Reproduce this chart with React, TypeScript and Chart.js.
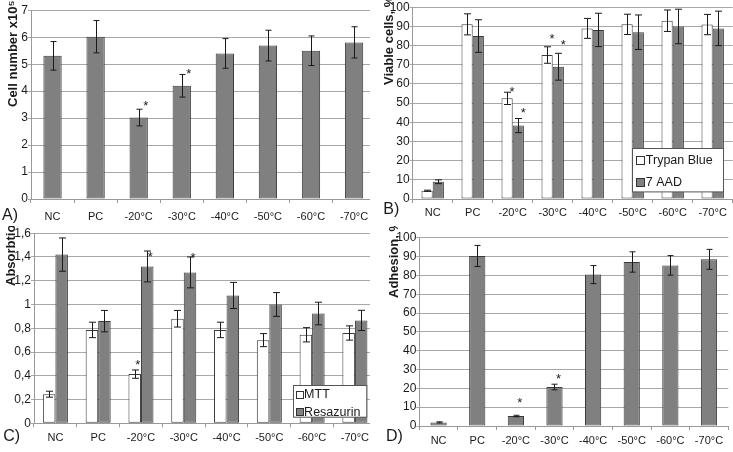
import React, { useEffect, useRef } from 'react';
import { Chart, registerables } from 'chart.js';

Chart.register(...registerables);

const FONT = "'Liberation Sans', Arial, Helvetica, sans-serif";

// ---------- data ----------
const categories = ['NC', 'PC', '-20°C', '-30°C', '-40°C', '-50°C', '-60°C', '-70°C'];

// A) cell number x10^5
const cellNumber = [5.31, 6.02, 3.02, 4.2, 5.4, 5.69, 5.5, 5.81];
const cellNumberErr = [0.53, 0.6, 0.31, 0.42, 0.55, 0.57, 0.55, 0.58];
const cellNumberStars = [null, null, 3.55, 4.72, null, null, null, null];
const cellTicks = { min: 0, max: 7, step: 1 };

// B) viable cells, %
const trypanBlue = [4.3, 91.1, 52.5, 75.1, 89, 91.1, 93, 91];
const trypanBlueErr = [0.3, 5.5, 3.2, 4.3, 5.2, 5.3, 5.6, 5.3];
const trypanBlueStars = [null, null, 57.2, 84.7, null, null, null, null];
const aad7 = [9.0, 85, 38.3, 69, 88.2, 87, 90, 89];
const aad7Err = [1.0, 8.5, 3.7, 7, 8.7, 9, 9, 9];
const aad7Stars = [null, null, 46.4, 81.5, null, null, null, null];
const viableTicks = { min: 0, max: 100, step: 10 };

// C) absorbtion
const mtt = [0.245, 0.786, 0.414, 0.88, 0.786, 0.7, 0.745, 0.76];
const mttErr = [0.025, 0.065, 0.035, 0.07, 0.065, 0.055, 0.06, 0.06];
const mttStars = [null, null, 0.51, null, null, null, null, null];
const resazurin = [1.42, 0.86, 1.32, 1.27, 1.076, 1.0, 0.924, 0.866];
const resazurinErr = [0.14, 0.09, 0.13, 0.13, 0.11, 0.1, 0.095, 0.085];
const resazurinStars = [null, null, 1.425, 1.41, null, null, null, null];
const absTicks = { min: 0, max: 1.6, step: 0.2 };

// D) adhesion, %
const adhesion = [1.9, 90.3, 5.3, 20.7, 80.4, 87.1, 85.3, 88.5];
const adhesionErr = [0.3, 5.6, 0.4, 1.5, 4.8, 5.4, 5.2, 5.3];
const adhesionStars = [null, null, 13.8, 26.2, null, null, null, null];
const adhTicks = { min: 0, max: 100, step: 10 };

// ---------- plugins ----------
const errorBarPlugin = {
  id: 'errorBars',
  afterDatasetsDraw(chart: any, _args: any, o: any) {
    const ctx = chart.ctx;
    const y = chart.scales.y;
    chart.data.datasets.forEach((ds: any, di: number) => {
      const meta = chart.getDatasetMeta(di);
      meta.data.forEach((bar: any, i: number) => {
        const v = ds.data[i];
        const e = ds.errors ? ds.errors[i] : 0;
        const x = Math.round(bar.x) + 0.5;
        const yT = y.getPixelForValue(v + e);
        const yB = y.getPixelForValue(v - e);
        ctx.save();
        ctx.strokeStyle = '#1a1a1a';
        ctx.lineWidth = 1;
        ctx.beginPath();
        ctx.moveTo(x, yT);
        ctx.lineTo(x, yB);
        ctx.moveTo(x - o.cap, yT);
        ctx.lineTo(x + o.cap, yT);
        ctx.moveTo(x - o.cap, yB);
        ctx.lineTo(x + o.cap, yB);
        ctx.stroke();
        if (ds.stars && ds.stars[i] != null) {
          ctx.fillStyle = '#1a1a1a';
          ctx.font = `13px ${FONT}`;
          ctx.textAlign = 'center';
          ctx.textBaseline = 'middle';
          ctx.fillText('*', bar.x + o.starDx, y.getPixelForValue(ds.stars[i]) + 3);
        }
        ctx.restore();
      });
    });
  },
};

const decorPlugin = {
  id: 'decor',
  afterDraw(chart: any, _args: any, o: any) {
    const ctx = chart.ctx;
    ctx.save();
    ctx.fillStyle = '#1a1a1a';
    ctx.font = `bold 13px ${FONT}`;
    ctx.translate(o.titleX, o.titleBottom);
    ctx.rotate(-Math.PI / 2);
    ctx.textAlign = 'left';
    ctx.textBaseline = 'middle';
    ctx.fillText(o.title, 0, 0);
    ctx.restore();
    ctx.save();
    ctx.fillStyle = '#1a1a1a';
    ctx.font = `16px ${FONT}`;
    ctx.textAlign = 'left';
    ctx.textBaseline = 'alphabetic';
    ctx.fillText(o.letter, o.letterX, o.letterY);
    ctx.restore();
  },
};

const boxLegendPlugin = {
  id: 'boxLegend',
  afterDraw(chart: any, _args: any, o: any) {
    if (!o || !o.display) return;
    const { ctx, chartArea } = chart;
    const x = Math.round(chartArea.right - o.right - o.width) + 0.5;
    const y = Math.round(chartArea.bottom - o.bottom - o.height) + 0.5;
    ctx.save();
    ctx.fillStyle = '#fff';
    ctx.fillRect(x, y, o.width, o.height);
    ctx.strokeStyle = '#555';
    ctx.lineWidth = 1;
    ctx.strokeRect(x, y, o.width, o.height);
    chart.data.datasets.forEach((ds: any, i: number) => {
      const cy = y + o.rows[i];
      const bx = Math.round(x + o.boxX) + 0.5;
      const by = Math.round(cy - o.box / 2) + 0.5;
      ctx.fillStyle = ds.backgroundColor;
      ctx.fillRect(bx, by, o.box, o.box);
      ctx.strokeStyle = '#333';
      ctx.strokeRect(bx, by, o.box, o.box);
      ctx.fillStyle = '#1a1a1a';
      ctx.font = `12.5px ${FONT}`;
      ctx.textAlign = 'left';
      ctx.textBaseline = 'middle';
      ctx.fillText(ds.label, x + o.textX, cy + 0.5);
    });
    ctx.restore();
  },
};

// ---------- config ----------
type DS = { label: string; data: number[]; errors: number[]; stars: (number | null)[]; color: string };

function makeConfig(o: any) {
  return {
    type: 'bar',
    data: {
      labels: categories,
      datasets: o.datasets.map((d: DS) => ({
        label: d.label,
        data: d.data,
        errors: d.errors,
        stars: d.stars,
        backgroundColor: d.color,
        borderColor: '#3a3a3a',
        borderWidth: 1,
        borderSkipped: false,
        categoryPercentage: o.catPct,
        barPercentage: 1,
      })),
    },
    options: {
      responsive: false,
      animation: false,
      devicePixelRatio: 1,
      events: [],
      layout: { padding: { top: o.padTop, right: o.padRight, left: 0, bottom: 0 } },
      scales: {
        x: {
          grid: { display: true, drawOnChartArea: false, drawTicks: true, tickLength: 4, color: '#999', offset: true },
          border: { display: true, color: '#999', width: 1 },
          ticks: { font: { family: FONT, size: 11 }, color: '#1a1a1a', padding: o.xPad, maxRotation: 0, autoSkip: false },
          afterFit: (s: any) => { s.height = o.xH; },
        },
        y: {
          min: o.ticks.min,
          max: o.ticks.max,
          ticks: {
            stepSize: o.ticks.step,
            padding: 0,
            font: { family: FONT, size: 12 },
            color: '#1a1a1a',
            callback: (v: number) => String(Math.round(v * 10) / 10).replace('.', ','),
          },
          grid: { color: '#a8a8a8', lineWidth: 1, drawTicks: true, tickLength: 3 },
          border: { display: true, color: '#999', width: 1 },
          afterFit: (s: any) => { s.width = o.yW; },
        },
      },
      plugins: {
        legend: { display: false },
        tooltip: { enabled: false },
        errorBars: { cap: o.cap, starDx: o.starDx },
        decor: o.decor,
        boxLegend: o.legend || { display: false },
      },
    },
    plugins: [errorBarPlugin, boxLegendPlugin, decorPlugin],
  };
}

const GRAY = '#808080';
const WHITE = '#ffffff';

const panels = [
  {
    left: 0, top: 0, width: 380, height: 226,
    cfg: {
      datasets: [{ label: 'Cell number', data: cellNumber, errors: cellNumberErr, stars: cellNumberStars, color: GRAY }],
      catPct: 0.425, ticks: cellTicks, padTop: 10.3, padRight: 4.4, yW: 31, xH: 27, xPad: 7, cap: 3, starDx: 7,
      decor: { title: 'Cell number x10\u2075', titleX: 13, titleBottom: 107, letter: 'A)', letterX: 2, letterY: 220 },
    },
  },
  {
    left: 370, top: 0, width: 363, height: 226,
    cfg: {
      datasets: [
        { label: 'Trypan Blue', data: trypanBlue, errors: trypanBlueErr, stars: trypanBlueStars, color: WHITE },
        { label: '7 AAD', data: aad7, errors: aad7Err, stars: aad7Stars, color: GRAY },
      ],
      catPct: 0.56, ticks: viableTicks, padTop: 7.3, padRight: 0.3, yW: 42.7, xH: 27, xPad: 3, cap: 3.5, starDx: 5,
      decor: { title: 'Viable cells, %', titleX: 19, titleBottom: 85, letter: 'B)', letterX: 13.3, letterY: 214 },
      legend: { display: true, right: 10, bottom: 7.3, width: 91, height: 43.4, rows: [11.7, 33.4], box: 8, boxX: 3.3, textX: 13.3 },
    },
  },
  {
    left: 0, top: 226, width: 380, height: 226,
    cfg: {
      datasets: [
        { label: 'MTT', data: mtt, errors: mttErr, stars: mttStars, color: WHITE },
        { label: 'Resazurin', data: resazurin, errors: resazurinErr, stars: resazurinStars, color: GRAY },
      ],
      catPct: 0.585, ticks: absTicks, padTop: 4, padRight: 3.7, yW: 34, xH: 28.7, xPad: 4, cap: 3.5, starDx: 3,
      decor: { title: 'Absorbtion', titleX: 11, titleBottom: 60, letter: 'C)', letterX: 3.3, letterY: 215 },
      legend: { display: true, right: 10.3, bottom: 6.6, width: 73.3, height: 31.7, rows: [9, 26.3], box: 7, boxX: 2.3, textX: 10.6 },
    },
  },
  {
    left: 370, top: 226, width: 363, height: 226,
    cfg: {
      datasets: [{ label: 'Adhesion', data: adhesion, errors: adhesionErr, stars: adhesionStars, color: GRAY }],
      catPct: 0.42, ticks: adhTicks, padTop: 11.7, padRight: 4.7, yW: 49.3, xH: 26, xPad: 4, cap: 3, starDx: 4,
      decor: { title: 'Adhesion, %', titleX: 24, titleBottom: 72, letter: 'D)', letterX: 16, letterY: 215 },
    },
  },
];

function Panel(p: any) {
  const ref = useRef<HTMLCanvasElement>(null);
  useEffect(() => {
    const chart = new Chart(ref.current as HTMLCanvasElement, makeConfig(p.cfg) as any);
    return () => chart.destroy();
  }, []);
  return (
    <canvas
      ref={ref}
      width={p.width}
      height={p.height}
      style={{ position: 'absolute', left: p.left, top: p.top, width: p.width, height: p.height, background: '#fff' }}
    />
  );
}

export default function App() {
  return (
    <div style={{ position: 'fixed', left: 0, top: 0, width: 733, height: 452, background: '#fff', overflow: 'hidden' }}>
      {panels.map((p, i) => (
        <Panel key={i} {...p} />
      ))}
    </div>
  );
}
